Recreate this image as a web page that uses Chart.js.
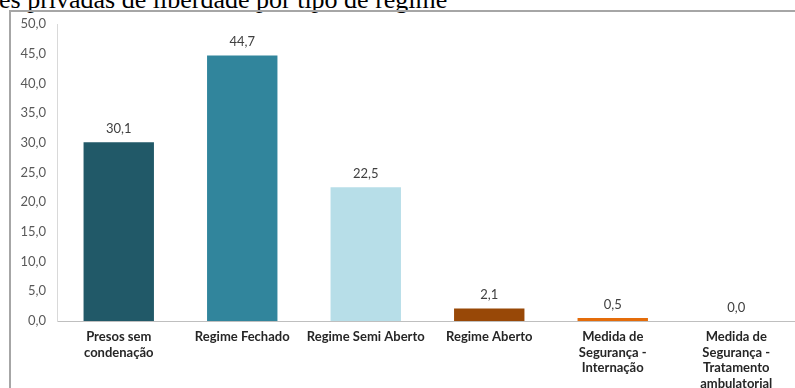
<!DOCTYPE html>
<html>
<head>
<meta charset="utf-8">
<script src="https://cdn.jsdelivr.net/npm/chart.js@4"></script>
<style>
  html, body { margin: 0; padding: 0; width: 795px; height: 388px; overflow: hidden; background: #fff; }
  #title { position: absolute; left: -1px; top: -13px; font-family: "Liberation Serif", "Times New Roman", serif; font-size: 26px; line-height: 1; color: #000; white-space: nowrap; }
  #frame { position: absolute; left: 9px; top: 10px; width: 900px; height: 500px; border-left: 2px solid #a6a6a6; border-top: 2px solid #a6a6a6; }
  #wrap { position: absolute; left: 0; top: 0; width: 798px; height: 388px; }
</style>
</head>
<body>
<div id="title">es privadas de liberdade por tipo de regime</div>
<div id="frame"></div>
<div id="wrap"><canvas id="c" width="798" height="388"></canvas></div>
<script>
const categories = [
  ["Presos sem", "condenação"],
  "Regime Fechado",
  "Regime Semi Aberto",
  "Regime Aberto",
  ["Medida de", "Segurança -", "Internação"],
  ["Medida de", "Segurança -", "Tratamento", "ambulatorial"]
];
const values = [30.1, 44.7, 22.5, 2.1, 0.5, 0.0];
const barColors = ["#215968", "#31859C", "#B7DEE8", "#984807", "#E46C0A", "#E46C0A"];
const yTicks = [0, 5, 10, 15, 20, 25, 30, 35, 40, 45, 50];

const fmt = v => v.toFixed(1).replace('.', ',');

const dataLabels = {
  id: 'dataLabels',
  afterDatasetsDraw(chart) {
    const ctx = chart.ctx;
    const meta = chart.getDatasetMeta(0);
    ctx.save();
    ctx.font = '13px Lato';
    ctx.fillStyle = '#404040';
    ctx.textAlign = 'center';
    ctx.textBaseline = 'bottom';
    meta.data.forEach((bar, i) => {
      ctx.fillText(fmt(values[i]), bar.x, bar.y - 7);
    });
    ctx.restore();
  }
};

new Chart(document.getElementById('c'), {
  type: 'bar',
  data: {
    labels: categories,
    datasets: [{
      data: values,
      backgroundColor: barColors,
      borderWidth: 0,
      barPercentage: 0.57,
      categoryPercentage: 1.0
    }]
  },
  options: {
    responsive: false,
    animation: false,
    layout: { padding: { top: 24, left: 0, right: 0, bottom: 0 } },
    plugins: { legend: { display: false }, tooltip: { enabled: false } },
    scales: {
      x: {
        grid: { display: false, drawTicks: false },
        border: { display: true, color: '#bfbfbf', width: 1 },
        ticks: {
          color: '#262626',
          font: { family: 'Lato', size: 13, weight: 'bold', lineHeight: 1.2 },
          padding: 8,
          maxRotation: 0,
          autoSkip: false
        },
        afterFit(scale) { scale.height = 67; }
      },
      y: {
        min: 0,
        max: 50,
        afterBuildTicks(scale) { scale.ticks = yTicks.map(v => ({ value: v })); },
        grid: { display: false, drawTicks: false },
        border: { display: true, color: '#d9d9d9', width: 1 },
        ticks: {
          color: '#595959',
          font: { family: 'Lato', size: 13 },
          padding: 11,
          callback: v => fmt(v)
        },
        afterFit(scale) { scale.width = 57; }
      }
    }
  },
  plugins: [dataLabels]
});
</script>
</body>
</html>
